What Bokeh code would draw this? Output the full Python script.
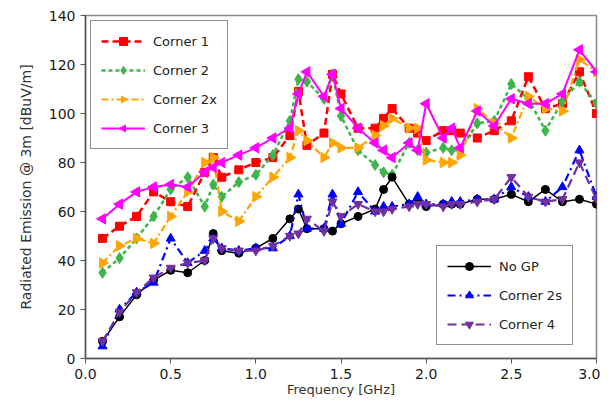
import math
from bokeh.plotting import figure
from bokeh.models import Legend, LegendItem, FixedTicker, CustomJSTickFormatter, ColumnDataSource
from bokeh.embed import file_html
from bokeh.resources import INLINE

freq = [0.1, 0.2, 0.3, 0.4, 0.5, 0.6, 0.7, 0.75, 0.8, 0.9, 1.0, 1.1, 1.2, 1.25, 1.3, 1.4, 1.45, 1.5,
        1.6, 1.7, 1.75, 1.8, 1.9, 1.95, 2.0, 2.1, 2.15, 2.2, 2.3, 2.4, 2.5, 2.6, 2.7, 2.8, 2.9, 3.0]

corner1 = [49, 54, 58, 68, 64, 62, 76, 82, 74, 77, 80, 82, 91, 109, 87, 92, 116, 108,
           94, 94, 98, 102, 94, 92, 89, 93, 93, 92, 90, 93, 97, 115, 102, 104, 117, 100]
corner2 = [35, 41, 49, 58, 69, 74, 62, 71, 66, 72, 75, 83, 97, 114, 113, 106, 116, 99,
           85, 79, 76, 75, 88, 85, 84, 86, 85, 85, 96, 97, 112, 106, 93, 105, 113, 104]
corner2x = [39, 46, 49, 47, 58, 68, 80, 82, 60, 56, 66, 74, 82, 93, 89, 82, 88, 86,
            86, 91, 95, 98, 94, 94, 81, 80, 80, 83, 102, 96, 90, 107, 102, 101, 122, 117]
corner3 = [57, 63, 68, 70, 71, 70, 76, 78, 80, 83, 86, 90, 94, 108, 117, 107, 116, 102,
           94, 88, 85, 82, 88, 85, 104, 90, 94, 86, 101, 95, 106, 104, 104, 108, 126, 117]
no_gp = [7, 17, 26, 32, 36, 35, 40, 51, 44, 43, 45, 49, 57, 61, 53, 53, 52, 55,
         58, 61, 69, 74, 63, 64, 62, 63, 63, 63, 65, 65, 67, 64, 69, 64, 65, 63]
corner2s = [5, 20, 27, 31, 49, 39, 44, 49, 45, 44, 45, 45, 50, 67, 53, 53, 67, 55,
            68, 60, 62, 62, 63, 66, 63, 63, 64, 64, 65, 65, 70, 66, 64, 70, 85, 66]
corner4 = [7, 19, 27, 33, 37, 39, 40, 49, 45, 44, 44, 46, 50, 51, 57, 52, 64, 58,
           63, 60, 60, 61, 62, 63, 63, 62, 63, 63, 64, 65, 74, 66, 64, 65, 80, 65]

x_ticks = [0.0, 0.5, 1.0, 1.5, 2.0, 2.5, 3.0]
y_ticks = [0, 20, 40, 60, 80, 100, 120, 140]

FONT = "DejaVu Sans"

p = figure(width=600, height=400, output_backend="svg", toolbar_location=None,
           x_range=(0, 3.0), y_range=(0, 140),
           min_border_left=85, min_border_right=4, min_border_top=15, min_border_bottom=42)
p.xgrid.visible = False
p.ygrid.visible = False
p.outline_line_color = "#888888"
p.outline_line_width = 1.5

for ax in (p.xaxis[0], p.yaxis[0]):
    ax.major_label_text_font = FONT
    ax.major_label_text_font_size = "14px"
    ax.major_label_text_color = "#1a1a1a"
    ax.axis_label_text_font = FONT
    ax.axis_label_text_font_size = "14px"
    ax.axis_label_text_font_style = "normal"
    ax.axis_label_text_color = "#333333"
    ax.minor_tick_line_color = None
    ax.major_tick_out = 5
    ax.major_tick_in = 0
    ax.axis_line_color = "#555555"
    ax.axis_line_width = 1.5
    ax.major_tick_line_color = "#555555"

p.xaxis.ticker = FixedTicker(ticks=x_ticks)
p.yaxis.ticker = FixedTicker(ticks=y_ticks)
p.xaxis.formatter = CustomJSTickFormatter(code="return tick.toFixed(1);")
p.xaxis.axis_label = "Frequency [GHz]"
p.yaxis.axis_label = "Radiated Emission @ 3m [dBuV/m]"
p.xaxis.axis_label_text_font_size = "13px"
p.xaxis.major_label_standoff = 5
p.xaxis.axis_label_standoff = 0
p.yaxis.axis_label_standoff = 12

def series(y, color, dash, marker, lw, size):
    src = ColumnDataSource(dict(x=freq, y=y))
    r1 = p.line("x", "y", source=src, line_color=color, line_dash=dash, line_width=lw)
    r2 = p.scatter("x", "y", source=src, marker=marker, size=size,
                   fill_color=color, line_color=color)
    return [r1, r2]

def series_tri(y, color, dash, angle, lw):
    # sideways triangles drawn as rotated regular 3-gons
    src = ColumnDataSource(dict(x=freq, y=y))
    r1 = p.line("x", "y", source=src, line_color=color, line_dash=dash, line_width=lw)
    r2 = p.ngon("x", "y", source=src, radius=6, radius_units="screen", n=3,
                angle=angle, fill_color=color, line_color=color)
    return [r1, r2]

r_c1 = series(corner1, "#FF0000", "7 4", "square", 2.5, 8)
r_c2 = series(corner2, "#3DB54A", "4 3", "diamond", 2.5, 11)
r_c2x = series_tri(corner2x, "#FFA500", "7 3 2 3", -math.pi / 2, 2.2)
r_c3 = series_tri(corner3, "#FF00FF", "solid", math.pi / 2, 2.0)
r_ngp = series(no_gp, "#000000", "solid", "circle", 1.5, 8)
r_c2s = series(corner2s, "#0000FF", "8 4 2 4", "triangle", 2.2, 9)
r_c4 = series(corner4, "#7030A0", "9 5", "inverted_triangle", 2.2, 9)

def make_legend(items, location):
    lg = Legend(items=[LegendItem(label=l, renderers=r) for l, r in items],
                location=location)
    lg.label_text_font = FONT
    lg.label_text_font_size = "13px"
    lg.label_text_color = "#222222"
    lg.border_line_color = "#222222"
    lg.border_line_width = 1.2
    lg.glyph_width = 44
    lg.glyph_height = 20
    lg.spacing = 9
    lg.padding = 10
    lg.margin = 5
    lg.label_standoff = 8
    lg.background_fill_alpha = 1.0
    return lg

leg1 = make_legend([("Corner 1", r_c1), ("Corner 2", r_c2),
                    ("Corner 2x", r_c2x), ("Corner 3", r_c3)], "top_left")
leg2 = make_legend([("No GP", r_ngp), ("Corner 2s", r_c2s),
                    ("Corner 4", r_c4)], (351, 13))
leg2.margin = 0
p.add_layout(leg1, "center")
p.add_layout(leg2, "center")

open("out.html", "w").write(file_html(p, INLINE))
